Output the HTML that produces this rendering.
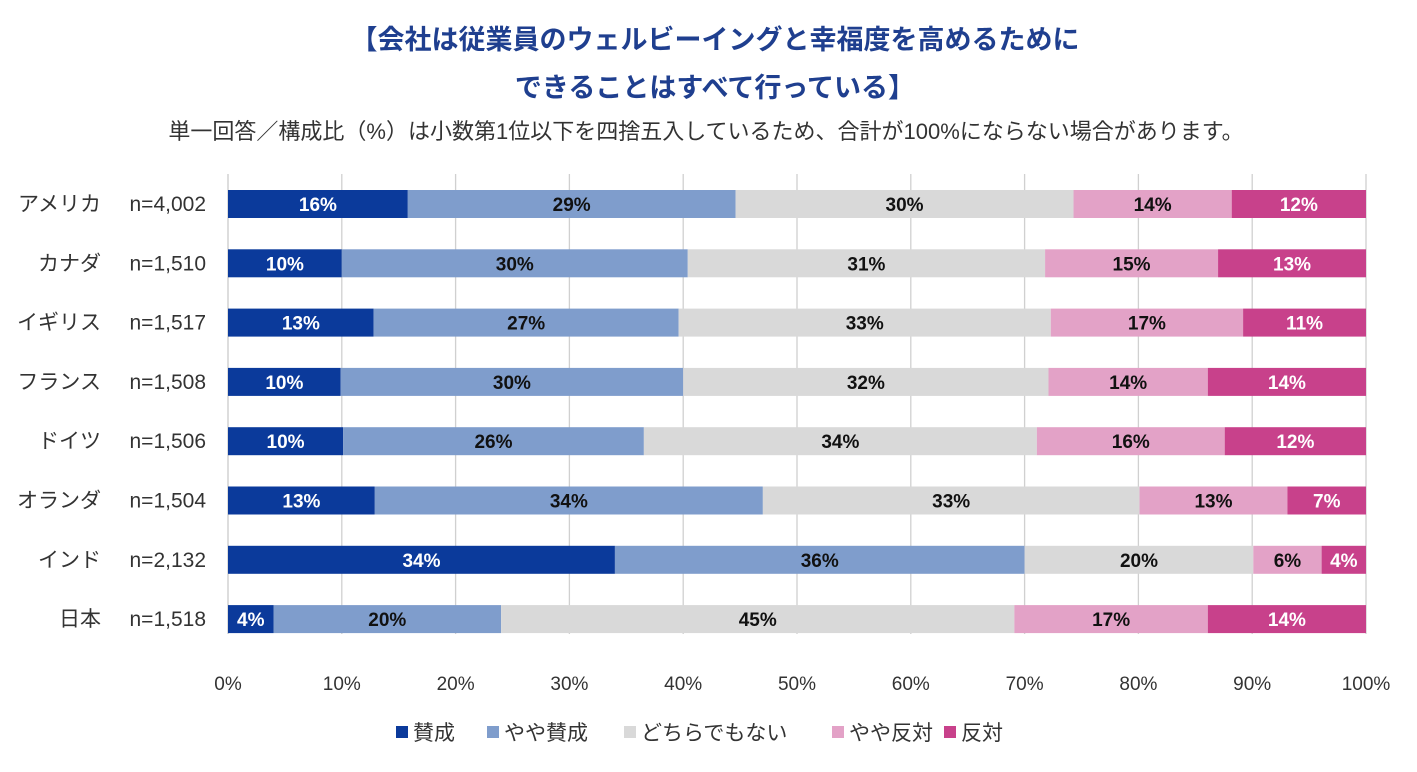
<!DOCTYPE html>
<html><head><meta charset="utf-8">
<style>
body{margin:0;background:#fff;font-family:"Liberation Sans","Noto Sans CJK JP",sans-serif;}
svg text{font-family:"Liberation Sans","Noto Sans CJK JP",sans-serif;}
</style></head>
<body>
<svg id="chart" width="1417" height="767">
<text x="715" y="49" text-anchor="middle" font-size="27" font-weight="bold" fill="#1f3f8f">【会社は従業員のウェルビーイングと幸福度を高めるために</text>
<text x="715" y="97" text-anchor="middle" font-size="27" font-weight="bold" fill="#1f3f8f">できることはすべて行っている】</text>
<text x="706" y="139" text-anchor="middle" font-size="22" fill="#333">単一回答／構成比（%）は小数第1位以下を四捨五入しているため、合計が100%にならない場合があります。</text>
<g id="grid"></g><g id="bars"></g><g id="labels"></g><g id="legend"></g>
</svg>
<script>
const countries=["アメリカ","カナダ","イギリス","フランス","ドイツ","オランダ","インド","日本"];
const samples=["n=4,002","n=1,510","n=1,517","n=1,508","n=1,506","n=1,504","n=2,132","n=1,518"];
const seriesNames=["賛成","やや賛成","どちらでもない","やや反対","反対"];
const agree=[15.8,10.0,12.8,9.9,10.1,12.9,34.0,4.0];
const someAgree=[28.8,30.4,26.8,30.1,26.4,34.1,36.0,20.0];
const neutral=[29.7,31.4,32.7,32.1,34.49,33.1,20.1,45.1];
const someDisagree=[13.9,15.2,16.9,14.0,16.49,13.0,6.0,17.0];
const disagree=[11.8,13.0,10.8,13.9,12.4,6.9,3.9,13.9];
const ticks=[0,10,20,30,40,50,60,70,80,90,100];
const series=[agree,someAgree,neutral,someDisagree,disagree];
const colors=["#0b3a9b","#7f9dcc","#d9d9d9","#e3a2c7","#c8418b"];
const textColors=["#fff","#111","#111","#111","#fff"];
const NS="http://www.w3.org/2000/svg";
const x0=228,x1=1366,yTop=174,rowH=59.3,barH=28;
const xs=v=>x0+(x1-x0)*v/100;
const yc=i=>yTop+30+i*rowH;
function mk(tag,attrs,parent,txt){const e=document.createElementNS(NS,tag);for(const k in attrs)e.setAttribute(k,attrs[k]);if(txt!=null)e.textContent=txt;parent.appendChild(e);return e;}
const grid=document.getElementById('grid'),bars=document.getElementById('bars'),labels=document.getElementById('labels'),legend=document.getElementById('legend');
ticks.forEach(t=>{
  if(t>0){const l=mk('line',{x1:xs(t),x2:xs(t),y1:yTop,y2:634,stroke:'#d0d0d0','stroke-width':1.3},grid);
  
  }
  const tx=mk('text',{x:xs(t),y:690,'text-anchor':'middle','font-size':19,fill:'#333'},grid,t+'%');
  
  
});
mk('line',{x1:x0,x2:x0,y1:yTop,y2:634,stroke:'#bbb','stroke-width':1},grid);
countries.forEach((c,i)=>{
  const y=yc(i);
  const cl=mk('text',{x:101,y:y+7,'text-anchor':'end','font-size':21,fill:'#333'},labels,c);
  
  
  const nl=mk('text',{x:206,y:y+7,'text-anchor':'end','font-size':21,fill:'#333'},labels,samples[i]);
  
  
  const total=series.reduce((a,s)=>a+s[i],0);
  let acc=0;
  series.forEach((s,j)=>{
    const v=s[i];
    const a=acc/total*100,b=(acc+v)/total*100;
    const r=mk('rect',{x:xs(a),y:y-barH/2,width:xs(b)-xs(a),height:barH,fill:colors[j]},bars);
    
    
    const t=mk('text',{x:(xs(a)+xs(b))/2,y:y+7,'text-anchor':'middle','font-size':19,'font-weight':'bold',fill:textColors[j]},bars,Math.round(v)+'%');
    
    
    acc+=v;
  });
});
const legX=[396,487,624,832,944];
seriesNames.forEach((n,j)=>{
  const g=mk('g',{},legend);
  
  
  mk('rect',{x:legX[j],y:726,width:12,height:12,fill:colors[j]},g);
  mk('text',{x:legX[j]+17,y:740,'font-size':21,fill:'#333'},g,n);
});
</script>
</body></html>
